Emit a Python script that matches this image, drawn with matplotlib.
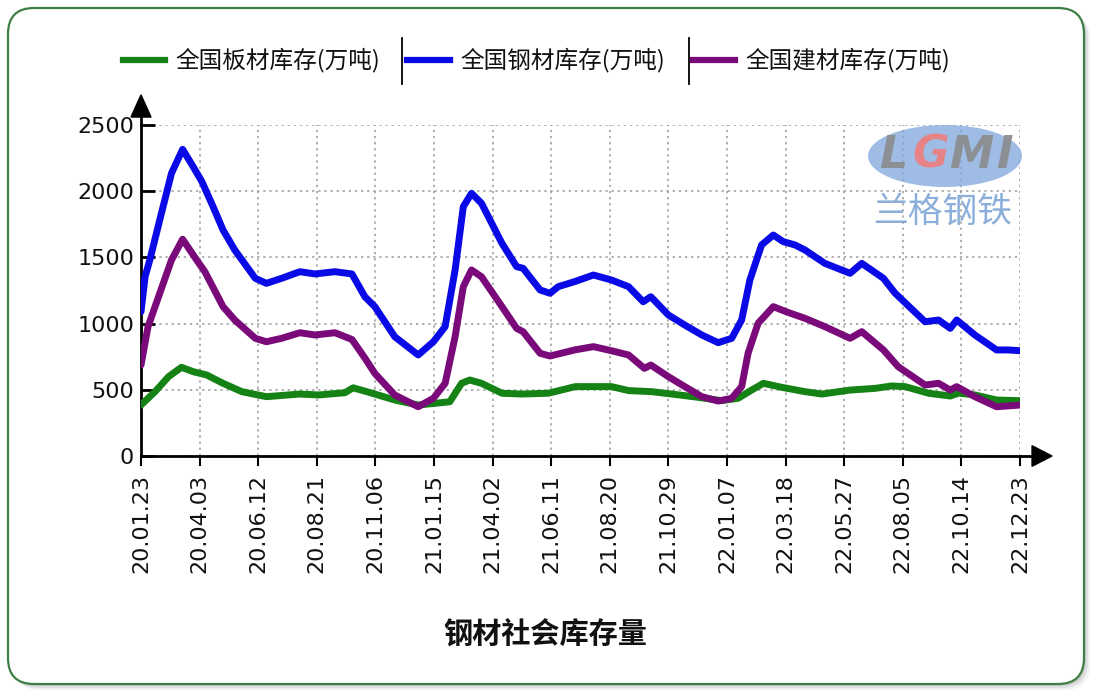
import matplotlib
matplotlib.use('Agg')
import matplotlib.pyplot as plt
from matplotlib.patches import FancyBboxPatch, Polygon, Ellipse
from matplotlib.lines import Line2D
from matplotlib.transforms import IdentityTransform

## data (week index, value in 10k tons)
tick_labels = ['20.01.23', '20.04.03', '20.06.12', '20.08.21', '20.11.06', '21.01.15',
               '21.04.02', '21.06.11', '21.08.20', '21.10.29', '22.01.07', '22.03.18',
               '22.05.27', '22.08.05', '22.10.14', '22.12.23']
tick_pos = [10 * k for k in range(len(tick_labels))]

steel_x = [0, 0.7, 1.5, 3.2, 5.2, 7.1, 8.9, 10.4, 12.3, 14, 16, 19.5, 21.4, 24, 27.1, 29.7,
           33.1, 36, 38.2, 39.9, 43.3, 47.3, 49.9, 51.9, 53.6, 55, 56.4, 58.1, 61.6, 64.1,
           65.2, 68.1, 69.8, 71.2, 74, 77.2, 80.3, 83.2, 85.7, 87, 90, 92.8, 95.7, 98.5,
           100.8, 102.5, 103.9, 105.9, 107.9, 109.6, 111.6, 113.3, 116.7, 121, 123, 126.7,
           128.7, 133.8, 136.1, 138.1, 139.2, 142.3, 146, 148, 150]
steel_y = [1090, 1354, 1480, 1783, 2135, 2316, 2185, 2072, 1883, 1707, 1556, 1342, 1304, 1342,
           1392, 1375, 1392, 1375, 1203, 1128, 901, 763, 863, 977, 1405, 1883, 1984, 1909,
           1606, 1430, 1418, 1254, 1229, 1279, 1317, 1367, 1329, 1279, 1165, 1203, 1065, 989,
           914, 856, 889, 1027, 1329, 1594, 1669, 1619, 1594, 1556, 1455, 1380, 1455, 1342,
           1229, 1014, 1027, 964, 1027, 914, 801, 801, 795]

build_x = [0, 1.2, 3.2, 5.2, 7.1, 9.5, 10.9, 14, 16, 19.5, 21.4, 24, 27.1, 29.7, 33.1, 36,
           38.2, 39.9, 43.3, 47.3, 49.9, 51.9, 53.6, 55, 56.4, 58.1, 61.6, 64.1, 65.2, 68.1,
           69.8, 74, 77.2, 80.3, 83.2, 85.9, 87, 90, 92.8, 95.7, 98.5, 100.8, 102.5, 103.6,
           105.3, 107.9, 110.5, 113.3, 116.7, 121, 123, 126.7, 129.2, 133.8, 136.1, 138.1,
           139.2, 142.3, 146, 150]
build_y = [687, 977, 1229, 1480, 1637, 1480, 1392, 1128, 1027, 889, 863, 889, 931, 914, 931,
           880, 740, 624, 461, 372, 436, 549, 901, 1279, 1405, 1354, 1128, 964, 939, 776, 755,
           801, 826, 795, 763, 662, 687, 599, 524, 448, 415, 436, 524, 776, 1002, 1128, 1083,
           1040, 977, 889, 939, 801, 675, 536, 549, 498, 524, 448, 372, 385]

plate_x = [0, 2.4, 4.7, 6.9, 8.9, 11.2, 14, 17.2, 21.4, 27.1, 30.3, 34.8, 36.2, 38.2, 39.9,
           43.3, 47.3, 50.2, 52.7, 54.7, 56.1, 58.1, 61.6, 65, 69.5, 74.1, 80.3, 83.2, 87.1,
           90.6, 95.1, 99.1, 101.9, 104.2, 106.2, 109.3, 113.3, 116.2, 121, 125.3, 128.1,
           130.4, 134.4, 138.1, 139.5, 142.3, 146, 150]
plate_y = [385, 486, 599, 670, 637, 612, 549, 486, 448, 468, 461, 478, 515, 490, 468, 423, 385,
           398, 410, 549, 574, 549, 474, 468, 474, 524, 524, 494, 486, 468, 443, 418, 436, 498,
           549, 519, 486, 468, 498, 511, 529, 524, 474, 453, 475, 461, 423, 418]

names = ['全国板材库存(万吨)', '全国钢材库存(万吨)', '全国建材库存(万吨)']
colors = ['#148214', '#0a0ae6', '#7a0a7a']
title = '钢材社会库存量'

CJK = ['Noto Sans CJK SC', 'DejaVu Sans']

## figure
fig = plt.figure(figsize=(11, 7), dpi=100)
fig.patch.set_facecolor('white')

# frame with shadow
for k, a in enumerate([0.05, 0.07, 0.09]):
    off = 6 - 2 * k
    sh = FancyBboxPatch((8 + off, 700 - 684 - off), 1076, 676,
                        boxstyle='round,pad=0,rounding_size=26',
                        transform=IdentityTransform(), facecolor='black', edgecolor='none',
                        alpha=a, zorder=-3)
    fig.patches.append(sh)
frame = FancyBboxPatch((8, 700 - 684), 1076, 676, boxstyle='round,pad=0,rounding_size=26',
                       transform=IdentityTransform(), facecolor='white',
                       edgecolor='#3f7f45', linewidth=1.6, zorder=-2)
fig.patches.append(frame)

ax = fig.add_axes([141 / 1100, 1 - 456 / 700, 879 / 1100, 331 / 700])
ax.set_facecolor('none')

lw = 5
ax.plot(plate_x, plate_y, color=colors[0], lw=lw, solid_joinstyle='round', solid_capstyle='round', zorder=3)
ax.plot(steel_x, steel_y, color=colors[1], lw=lw, solid_joinstyle='round', solid_capstyle='round', zorder=3)
ax.plot(build_x, build_y, color=colors[2], lw=lw, solid_joinstyle='round', solid_capstyle='round', zorder=4)

ax.set_xlim(0, 150)
ax.set_ylim(0, 2500)
ax.set_xticks(tick_pos)
ax.set_xticklabels(tick_labels, rotation=90, fontsize=16, color='#111111')
ax.set_yticks(range(0, 2501, 500))
ax.set_yticklabels([str(v) for v in range(0, 2501, 500)], fontsize=16, color='#111111')
ax.tick_params(axis='y', direction='in', length=10, width=2, pad=5)
ax.tick_params(axis='x', direction='out', length=7, width=1.5, pad=6)
ax.grid(True, color='#9a9a9a', linestyle=(0, (1.5, 2.5)), linewidth=1.1)
for s in ['top', 'right']:
    ax.spines[s].set_visible(False)
for s in ['left', 'bottom']:
    ax.spines[s].set_linewidth(2)

# axis arrows
ax.plot([0, 0], [1, 1.03], transform=ax.transAxes, color='black', lw=2, clip_on=False)
ax.add_patch(Polygon([[-0.0114, 1.024], [0.0114, 1.024], [0, 1.091]], closed=True,
                     transform=ax.transAxes, color='black', clip_on=False))
ax.plot([1, 1.015], [0, 0], transform=ax.transAxes, color='black', lw=2, clip_on=False)
ax.add_patch(Polygon([[1.0137, -0.031], [1.0137, 0.031], [1.0364, 0]], closed=True,
                     transform=ax.transAxes, color='black', clip_on=False))

# legend (manual)
def px(x): return x / 1100
def py(y): return 1 - y / 700

leg = [(123, 165, 175), (407, 450, 460), (693, 735, 745)]
for (x0, x1, xt), c, n in zip(leg, colors, names):
    fig.add_artist(Line2D([px(x0), px(x1)], [py(60), py(60)], color=c, lw=4.5))
    fig.text(px(xt), py(60), n, fontsize=17, family=CJK, va='center', ha='left', color='#111111')
for xs in [402, 689]:
    fig.add_artist(Line2D([px(xs), px(xs)], [py(38), py(84)], color='black', lw=1.3))

# watermark logo
fig.patches.append(Ellipse((px(945), py(156)), 154 / 1100, 62 / 700, transform=fig.transFigure,
                           facecolor='#7ea6dc', edgecolor='none', alpha=0.75, zorder=1))
for ch, x, c in [('L', 893, '#8a8a8a'), ('G', 931, '#ee7d7d'), ('M', 971, '#8a8a8a'), ('I', 1004, '#8a8a8a')]:
    fig.text(px(x), py(155), ch, fontsize=32, fontweight='bold', color=c, alpha=0.9,
             ha='center', va='center', family='DejaVu Sans', style='italic')
fig.text(px(943), py(212), '兰格钢铁', fontsize=25, family=CJK, color='#7fa6d6', alpha=0.9,
         ha='center', va='center')

fig.text(px(545), py(635), title, fontsize=21, family=CJK, fontweight='bold',
         ha='center', va='center', color='#111111')

fig.savefig('out.png', dpi=100)
